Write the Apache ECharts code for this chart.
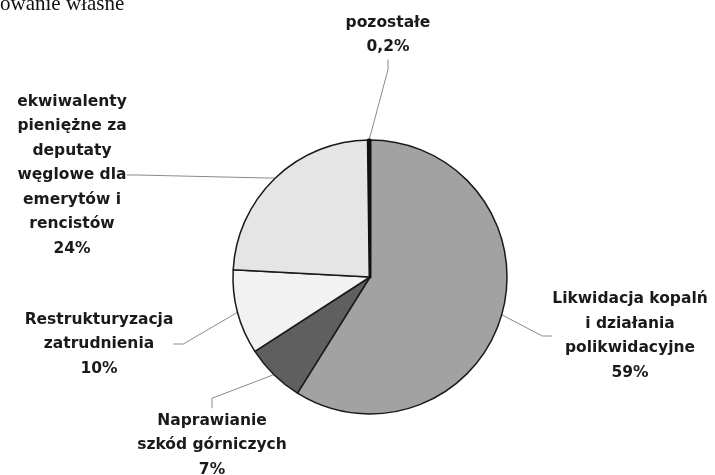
<!DOCTYPE html>
<html>
<head>
<meta charset="utf-8">
<script src="https://cdn.jsdelivr.net/npm/echarts@6/dist/echarts.min.js"></script>
<style>
	html, body { margin: 0; padding: 0; background: #fff; }
	#main { width: 715px; height: 475px; }
</style>
</head>
<body>
<div id="main"></div>
<script>
// kategorie wydatków (kolejność zgodnie z ruchem wskazówek, od góry)
var names = [
	'Likwidacja kopalń\ni działania\npolikwidacyjne',
	'Naprawianie\nszkód górniczych',
	'Restrukturyzacja\nzatrudnienia',
	'ekwiwalenty\npieniężne za\ndeputaty\nwęglowe dla\nemerytów i\nrencistów',
	'pozostałe'
];
var shares = [59, 7, 10, 24, 0.2]; // udział w %
var colors = ['#a2a2a2', '#5f5f5f', '#f2f2f2', '#e5e5e5', '#111111'];

// środki etykiet
var labelX = [630, 212, 99, 72, 388];
var labelY = [336, 445, 344, 175, 35];

var myChart = echarts.init(document.getElementById('main'));

var pieData = [];
for (var i = 0; i < names.length; i++) {
	pieData.push({ name: names[i], value: shares[i], itemStyle: { color: colors[i] } });
}
// cienki wycinek "pozostałe" - grubsza ramka, żeby był widoczny
pieData[4].itemStyle.borderColor = '#111';
pieData[4].itemStyle.borderWidth = 3;

option = {
	animation: false,
	graphic: [{
		type: 'text',
		left: 0,
		top: -6,
		style: {
			text: 'owanie własne',
			font: '21px "Liberation Serif", serif',
			fill: '#111'
		}
	}],
	series: [{
		type: 'pie',
		center: [370, 277],
		radius: 137,
		startAngle: 90,
		clockwise: true,
		data: pieData,
		itemStyle: {
			borderColor: '#1a1a1a',
			borderWidth: 1.5
		},
		label: {
			show: true,
			formatter: function(p) {
				return p.name + '\n' + String(p.value).replace('.', ',') + '%';
			},
			fontFamily: '"DejaVu Sans", sans-serif',
			fontWeight: 'bold',
			fontSize: 15.5,
			lineHeight: 24.5,
			color: '#1a1a1a',
			align: 'center'
		},
		labelLine: {
			show: true,
			length: 20,
			length2: 10,
			lineStyle: { color: '#8a8a8a', width: 1 }
		},
		labelLayout: function(params) {
			return {
				x: labelX[params.dataIndex],
				y: labelY[params.dataIndex],
				align: 'center',
				verticalAlign: 'middle'
			};
		}
	}]
};

myChart.setOption(option);
</script>
</body>
</html>
